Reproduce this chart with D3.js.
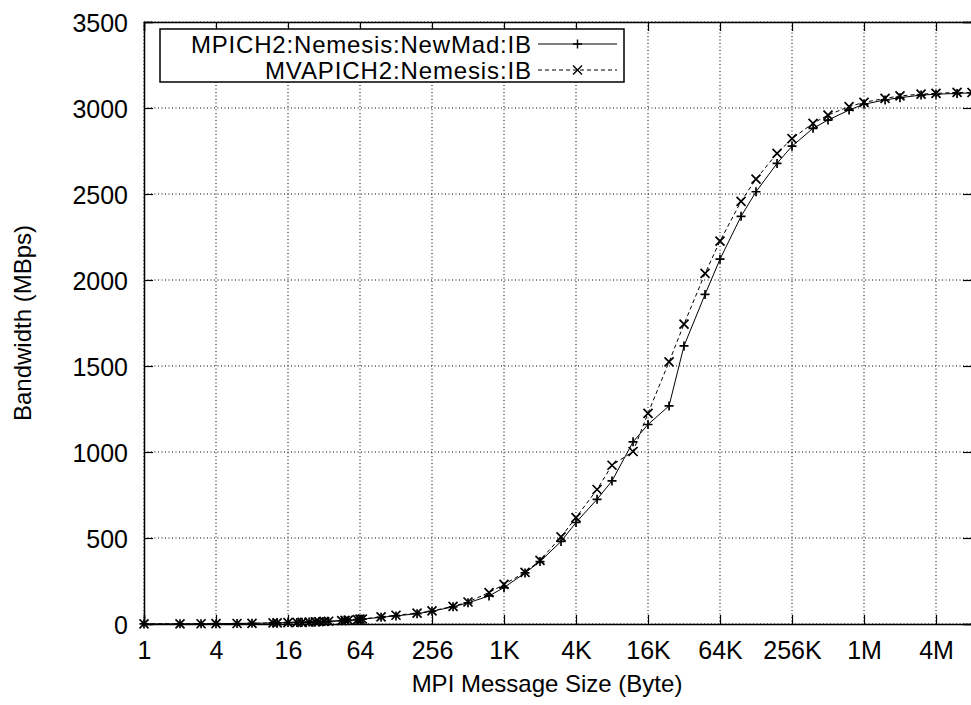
<!DOCTYPE html>
<html>
<head>
<meta charset="utf-8">
<script src="https://cdn.jsdelivr.net/npm/d3@7"></script>
<style>
  body { margin: 0; background: #fff; }
  svg { display: block; font-family: "Liberation Sans", Arial, Helvetica, sans-serif; }
</style>
</head>
<body>
<svg id="chart" width="971" height="705"></svg>
<script>
// message sizes in bytes (x axis)
const sizes = [1, 2, 3, 4, 6, 8, 12, 13, 16, 19, 21, 24, 27, 29, 32, 35, 45, 48, 51, 61, 64, 67,
  96, 128, 192, 256, 384, 512, 768, 1024, 1536, 2048, 3072, 4096, 6144, 8192, 12288, 16384,
  24576, 32768, 49152, 65536, 98304, 131072, 196608, 262144, 393216, 524288, 786432,
  1048576, 1572864, 2097152, 3145728, 4194304, 6291456, 8388608];

// bandwidth in MBps
const mpich2NewMad = [0.5, 1, 1.5, 2, 3, 4, 6, 6.5, 8, 9, 10, 11, 12, 13, 14, 15, 19, 20, 21, 25, 27, 28,
  39, 47, 60, 74, 100, 123, 163, 212, 297, 363, 480, 590, 725, 832, 1059, 1160,
  1268, 1617, 1916, 2121, 2370, 2513, 2678, 2778, 2882, 2930, 2988,
  3022, 3047, 3060, 3075, 3080, 3085, 3088];

const mvapich2 = [0.5, 1, 1.5, 2, 3, 4, 6, 6.5, 8, 9, 10, 11, 12, 13, 15, 16, 20, 21, 22, 26, 28, 29,
  42, 51, 63, 76, 103, 128, 183, 230, 300, 370, 506, 619, 782, 923, 1003, 1225,
  1524, 1743, 2038, 2226, 2457, 2587, 2736, 2822, 2911, 2959, 3008,
  3033, 3056, 3070, 3081, 3085, 3091, 3090];

const xTickValues = [1, 4, 16, 64, 256, 1024, 4096, 16384, 65536, 262144, 1048576, 4194304];
const xTickLabels = ["1", "4", "16", "64", "256", "1K", "4K", "16K", "64K", "256K", "1M", "4M"];
const yTickValues = [0, 500, 1000, 1500, 2000, 2500, 3000, 3500];

const series = [
  { name: "MPICH2:Nemesis:NewMad:IB", values: mpich2NewMad, dash: null, marker: "plus", textLen: 340 },
  { name: "MVAPICH2:Nemesis:IB", values: mvapich2, dash: "4,3", marker: "cross", textLen: 266 }
];

const plotLeft = 144, plotRight = 972, plotTop = 22, plotBottom = 624;
const fontSize = 25;

const svg = d3.select("#chart");

const x = d3.scaleLog().base(2)
  .domain([1, 8388608])
  .range([plotLeft, plotRight]);
const y = d3.scaleLinear()
  .domain([0, 3500])
  .range([plotBottom, plotTop]);

// dotted grid
const grid = svg.append("g");
grid.selectAll(".vgrid")
  .data(xTickValues)
  .enter().append("line")
  .attr("x1", d => x(d)).attr("x2", d => x(d))
  .attr("y1", plotTop).attr("y2", plotBottom)
  .attr("stroke", "#000").attr("stroke-width", 1)
  .attr("stroke-dasharray", "1,2.5");
grid.selectAll(".hgrid")
  .data(yTickValues)
  .enter().append("line")
  .attr("x1", plotLeft).attr("x2", plotRight)
  .attr("y1", d => y(d)).attr("y2", d => y(d))
  .attr("stroke", "#000").attr("stroke-width", 1)
  .attr("stroke-dasharray", "1,2.5");

// axes with inward ticks, mirrored on top/right
svg.append("g")
  .attr("transform", `translate(0,${plotBottom})`)
  .call(d3.axisBottom(x).tickValues(xTickValues).tickSize(-9).tickPadding(17)
    .tickFormat((d, i) => xTickLabels[i]));
svg.append("g")
  .attr("transform", `translate(0,${plotTop})`)
  .call(d3.axisTop(x).tickValues(xTickValues).tickSize(-9).tickFormat(""));
const yAxis = svg.append("g")
  .attr("transform", `translate(${plotLeft},0)`)
  .call(d3.axisLeft(y).tickValues(yTickValues).tickSize(-9).tickPadding(16)
    .tickFormat(d3.format("d")));
svg.append("g")
  .attr("transform", `translate(${plotRight},0)`)
  .call(d3.axisRight(y).tickValues(yTickValues).tickSize(-9).tickFormat(""));

svg.selectAll(".domain").attr("stroke", "#000").attr("stroke-width", 1.5);
svg.selectAll(".tick line").attr("stroke", "#000").attr("stroke-width", 1.2);
svg.selectAll(".tick text")
  .attr("fill", "#000")
  .style("font-size", fontSize + "px")
  .style("font-family", "Liberation Sans, Arial, sans-serif");
yAxis.selectAll(".tick text").attr("dy", "0.36em");

// axis titles
svg.append("text")
  .attr("x", 547).attr("y", 692)
  .attr("text-anchor", "middle")
  .style("font-size", "24px")
  .text("MPI Message Size (Byte)");
svg.append("text")
  .attr("transform", `translate(31,${(plotTop + plotBottom) / 2}) rotate(-90)`)
  .attr("text-anchor", "middle")
  .style("font-size", "24px")
  .text("Bandwidth (MBps)");

const markerPath = {
  plus: "M-4.5,0H4.5M0,-4.5V4.5",
  cross: "M-4.5,-4.5L4.5,4.5M-4.5,4.5L4.5,-4.5"
};

const line = d3.line()
  .x((d, i) => x(sizes[i]))
  .y(d => y(d));

const plot = svg.append("g");
series.forEach(s => {
  plot.append("path")
    .datum(s.values)
    .attr("d", line)
    .attr("fill", "none")
    .attr("stroke", "#000")
    .attr("stroke-width", 1)
    .attr("stroke-dasharray", s.dash);
  plot.selectAll(".m-" + s.marker)
    .data(s.values)
    .enter().append("path")
    .attr("class", "m-" + s.marker)
    .attr("transform", (d, i) => `translate(${x(sizes[i])},${y(d)})`)
    .attr("d", markerPath[s.marker])
    .attr("stroke", "#000")
    .attr("stroke-width", 1.7)
    .attr("fill", "none");
});

// opaque legend box
const legend = svg.append("g");
legend.append("rect")
  .attr("x", 160).attr("y", 29)
  .attr("width", 464).attr("height", 53)
  .attr("fill", "#fff").attr("stroke", "#000").attr("stroke-width", 1.5);
series.forEach((s, i) => {
  const ly = 44 + i * 26;
  legend.append("text")
    .attr("x", 531).attr("y", ly)
    .attr("dy", "0.36em")
    .attr("text-anchor", "end")
    .style("font-size", "24px")
    .attr("textLength", s.textLen)
    .text(s.name);
  legend.append("line")
    .attr("x1", 538).attr("x2", 617)
    .attr("y1", ly).attr("y2", ly)
    .attr("stroke", "#000").attr("stroke-width", 1)
    .attr("stroke-dasharray", s.dash);
  legend.append("path")
    .attr("transform", `translate(577.5,${ly})`)
    .attr("d", markerPath[s.marker])
    .attr("stroke", "#000").attr("stroke-width", 1.4)
    .attr("fill", "none");
});
</script>
</body>
</html>
